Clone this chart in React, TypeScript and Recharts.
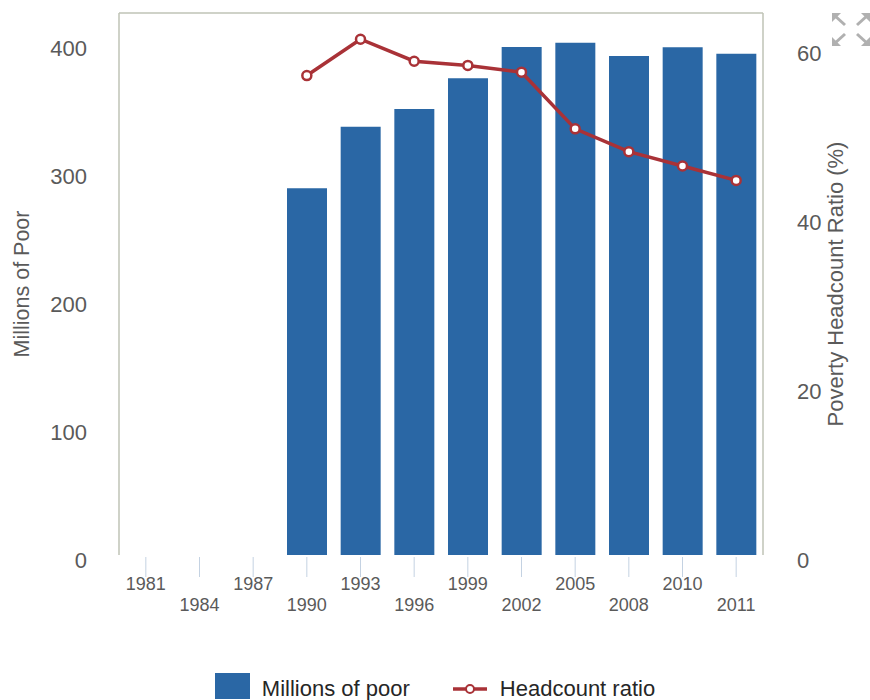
import React from 'react';
import { ComposedChart, Bar, Line, XAxis, YAxis, Legend, ReferenceLine } from 'recharts';

const years = ['1981', '1984', '1987', '1990', '1993', '1996', '1999', '2002', '2005', '2008', '2010', '2011'];
const millionsOfPoor: (number | null)[] = [null, null, null, 286.5, 334.6, 348.4, 372.4, 396.8, 400.2, 389.8, 396.6, 391.6];
const headcountRatio: (number | null)[] = [null, null, null, 56.7, 61.0, 58.4, 57.9, 57.1, 50.4, 47.7, 46.0, 44.3];
const leftTicks = [0, 100, 200, 300, 400];
const rightTicks = [0, 20, 40, 60];
const leftMax = 423.4;
const rightMax = 64.1;

const data = years.map((y, i) => ({ year: y, poor: millionsOfPoor[i], ratio: headcountRatio[i] }));

const FONT = '"Liberation Sans", Arial, Helvetica, sans-serif';
const BAR = '#2a67a5';
const LINE = '#a93237';
const BORDER = '#bfc3b6';
const TICKTEXT = '#5a5a5a';

const XTick = (props: any) => {
  const { x, y, payload } = props;
  const idx = years.indexOf(String(payload.value));
  const lower = idx % 2 === 1;
  return (
    <g>
      <line x1={x} x2={x} y1={y + 2} y2={y + 22} stroke="#c4d2e2" strokeWidth={1} />
      <text x={x} y={y + (lower ? 56 : 35)} textAnchor="middle" fontSize={18} fill={TICKTEXT} fontFamily={FONT}>
        {payload.value}
      </text>
    </g>
  );
};

const LeftTick = (props: any) => {
  const { x, y, payload } = props;
  return (
    <text x={x - 32} y={y + 13} textAnchor="end" fontSize={22} fill={TICKTEXT} fontFamily={FONT}>
      {payload.value}
    </text>
  );
};

const RightTick = (props: any) => {
  const { x, y, payload } = props;
  return (
    <text x={x + 34} y={y + 13} textAnchor="start" fontSize={22} fill={TICKTEXT} fontFamily={FONT}>
      {payload.value}
    </text>
  );
};

const LeftTitle = () => (
  <text x={29} y={284} transform="rotate(-90 29 284)" textAnchor="middle" fontSize={21.5} fill={TICKTEXT} fontFamily={FONT}>
    Millions of Poor
  </text>
);

const RightTitle = () => (
  <text x={843} y={284} transform="rotate(-90 843 284)" textAnchor="middle" fontSize={22} fill={TICKTEXT} fontFamily={FONT}>
    Poverty Headcount Ratio (%)
  </text>
);

const LegendContent = () => (
  <div
    style={{
      display: 'flex',
      justifyContent: 'center',
      alignItems: 'center',
      width: 870,
      height: 32,
      fontFamily: FONT,
      fontSize: 22,
      color: '#262626',
    }}
  >
    <span style={{ display: 'inline-block', width: 35, height: 26, background: BAR, marginRight: 12 }} />
    <span style={{ marginRight: 43, position: 'relative', top: 3 }}>Millions of poor</span>
    <svg width={34} height={12} style={{ marginRight: 13, position: 'relative', top: 3 }}>
      <line x1={0} x2={34} y1={6} y2={6} stroke={LINE} strokeWidth={3.5} />
      <circle cx={17} cy={6} r={4} fill="#fff" stroke={LINE} strokeWidth={2} />
    </svg>
    <span style={{ position: 'relative', top: 3 }}>Headcount ratio</span>
  </div>
);

const ExpandIcon = () => (
  <svg width={40} height={36} style={{ position: 'absolute', left: 831, top: 12 }}>
    <g fill="#b0b0b0" stroke="#b0b0b0" strokeWidth={3}>
      <polygon points="1,1 10,1 1,10" strokeWidth={0} />
      <line x1={3} y1={3} x2={14} y2={13} />
      <polygon points="39,1 30,1 39,10" strokeWidth={0} />
      <line x1={37} y1={3} x2={26} y2={13} />
      <polygon points="1,34 10,34 1,25" strokeWidth={0} />
      <line x1={3} y1={32} x2={14} y2={22} />
      <polygon points="39,34 30,34 39,25" strokeWidth={0} />
      <line x1={37} y1={32} x2={26} y2={22} />
    </g>
  </svg>
);

export default function App() {
  return (
    <div style={{ position: 'absolute', left: 0, top: 0, width: 870, height: 700, background: '#fff' }}>
      <ComposedChart
        width={870}
        height={700}
        data={data}
        margin={{ top: 13, right: 0, bottom: 85, left: 0 }}
      >
        <XAxis
          dataKey="year"
          interval={0}
          height={60}
          tickSize={0}
          tickMargin={0}
          tickLine={false}
          axisLine={false}
          tick={<XTick />}
        />
        <YAxis
          yAxisId="left"
          orientation="left"
          width={119}
          type="number"
          domain={[0, leftMax]}
          ticks={leftTicks}
          tickSize={0}
          tickMargin={0}
          tickLine={false}
          axisLine={{ stroke: BORDER, strokeWidth: 1.5 }}
          tick={<LeftTick />}
          label={{ content: () => <LeftTitle /> }}
        />
        <YAxis
          yAxisId="right"
          orientation="right"
          width={107}
          type="number"
          domain={[0, rightMax]}
          ticks={rightTicks}
          tickSize={0}
          tickMargin={0}
          tickLine={false}
          axisLine={{ stroke: BORDER, strokeWidth: 1.5 }}
          tick={<RightTick />}
          label={{ content: () => <RightTitle /> }}
        />
        <ReferenceLine yAxisId="left" y={leftMax} stroke={BORDER} strokeWidth={1.5} ifOverflow="extendDomain" />
        <Legend
          verticalAlign="middle"
          align="center"
          layout="horizontal"
          wrapperStyle={{ top: 670, left: 0, width: 870, height: 32 }}
          content={<LegendContent />}
        />
        <Bar
          yAxisId="left"
          dataKey="poor"
          name="Millions of poor"
          fill={BAR}
          barSize={40}
          isAnimationActive={false}
        />
        <Line
          yAxisId="right"
          dataKey="ratio"
          name="Headcount ratio"
          type="linear"
          stroke={LINE}
          strokeWidth={3.5}
          dot={{ r: 4.5, fill: '#fff', stroke: LINE, strokeWidth: 2.5 }}
          activeDot={false}
          isAnimationActive={false}
        />
      </ComposedChart>
      <ExpandIcon />
    </div>
  );
}
